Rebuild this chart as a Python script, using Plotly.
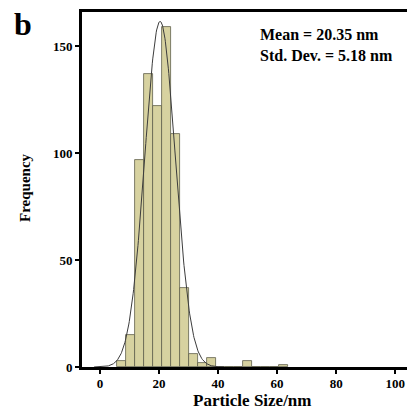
import numpy as np
import plotly.graph_objects as go

# ---- data ----
bin_start = 5.7
bin_width = 3.05
counts = [3, 15, 97, 137, 122, 159, 109, 37, 6, 2, 4, 0, 0, 0, 3, 0, 0, 0, 1]
mean_nm = 20.35
std_nm = 5.18
x_ticks = [0, 20, 40, 60, 80, 100]
y_ticks = [0, 50, 100, 150]

centers = [bin_start + bin_width * (i + 0.5) for i in range(len(counts))]
n_total = 688
xs = np.linspace(-2, 42, 300)
ys = n_total * bin_width / (std_nm * np.sqrt(2 * np.pi)) * np.exp(-0.5 * ((xs - mean_nm) / std_nm) ** 2)

serif = "Liberation Serif, Times New Roman, serif"

W, H = 407, 410
L, T, B = 82, 12, 410 - 367
PW, PH = W - L, H - T - B

def px(x):
    return (x - L) / PW

def py(y):
    return (H - B - y) / PH

fig = go.Figure()
fig.add_trace(go.Bar(
    x=centers, y=counts, width=bin_width,
    marker=dict(color="rgb(215,210,160)", line=dict(color="rgb(95,95,75)", width=0.8)),
    showlegend=False,
))
fig.add_trace(go.Scatter(
    x=xs, y=ys, mode="lines",
    line=dict(color="rgb(60,60,60)", width=1),
    showlegend=False,
))

fig.update_layout(
    width=W, height=H,
    margin=dict(l=L, r=0, t=T, b=B),
    plot_bgcolor="white", paper_bgcolor="white",
    bargap=0,
    xaxis=dict(
        range=[-6.1, 104], tickvals=x_ticks, showgrid=False, zeroline=False,
        showline=True, linewidth=3, linecolor="black", mirror=True,
        ticks="outside", ticklen=4, tickwidth=2, tickcolor="black",
        ticklabeloverflow="allow", ticklabelstandoff=-2,
        tickfont=dict(family=serif, size=13, color="black", weight="bold"),
    ),
    yaxis=dict(
        range=[0, 166], tickvals=y_ticks, showgrid=False, zeroline=False,
        showline=True, linewidth=3, linecolor="black",
        ticks="outside", ticklen=4, tickwidth=2, tickcolor="black",
        tickfont=dict(family=serif, size=13, color="black", weight="bold"),
    ),
)

fig.add_annotation(text="<b>Particle Size/nm</b>", xref="paper", yref="paper",
                   x=px(252), y=py(400), showarrow=False,
                   font=dict(family=serif, size=17, color="black"),
                   xanchor="center", yanchor="middle")
fig.add_annotation(text="<b>Frequency</b>", xref="paper", yref="paper",
                   x=px(25), y=py(188), showarrow=False, textangle=-90,
                   font=dict(family=serif, size=15, color="black"),
                   xanchor="center", yanchor="middle")
fig.add_annotation(text="<b>b</b>", xref="paper", yref="paper",
                   x=px(23), y=py(24), showarrow=False,
                   font=dict(family=serif, size=32, color="black"),
                   xanchor="center", yanchor="middle")
fig.add_annotation(text=f"<b>Mean = {mean_nm:.2f} nm<br>Std. Dev. = {std_nm:.2f} nm</b>",
                   xref="paper", yref="paper",
                   x=px(258), y=py(24), showarrow=False, align="left",
                   font=dict(family=serif, size=16, color="black"),
                   xanchor="left", yanchor="top")

fig.write_html(
    "out.html",
    config={"displayModeBar": False},
    post_script="document.body.style.margin='0px';document.body.style.overflow='hidden';",
)
